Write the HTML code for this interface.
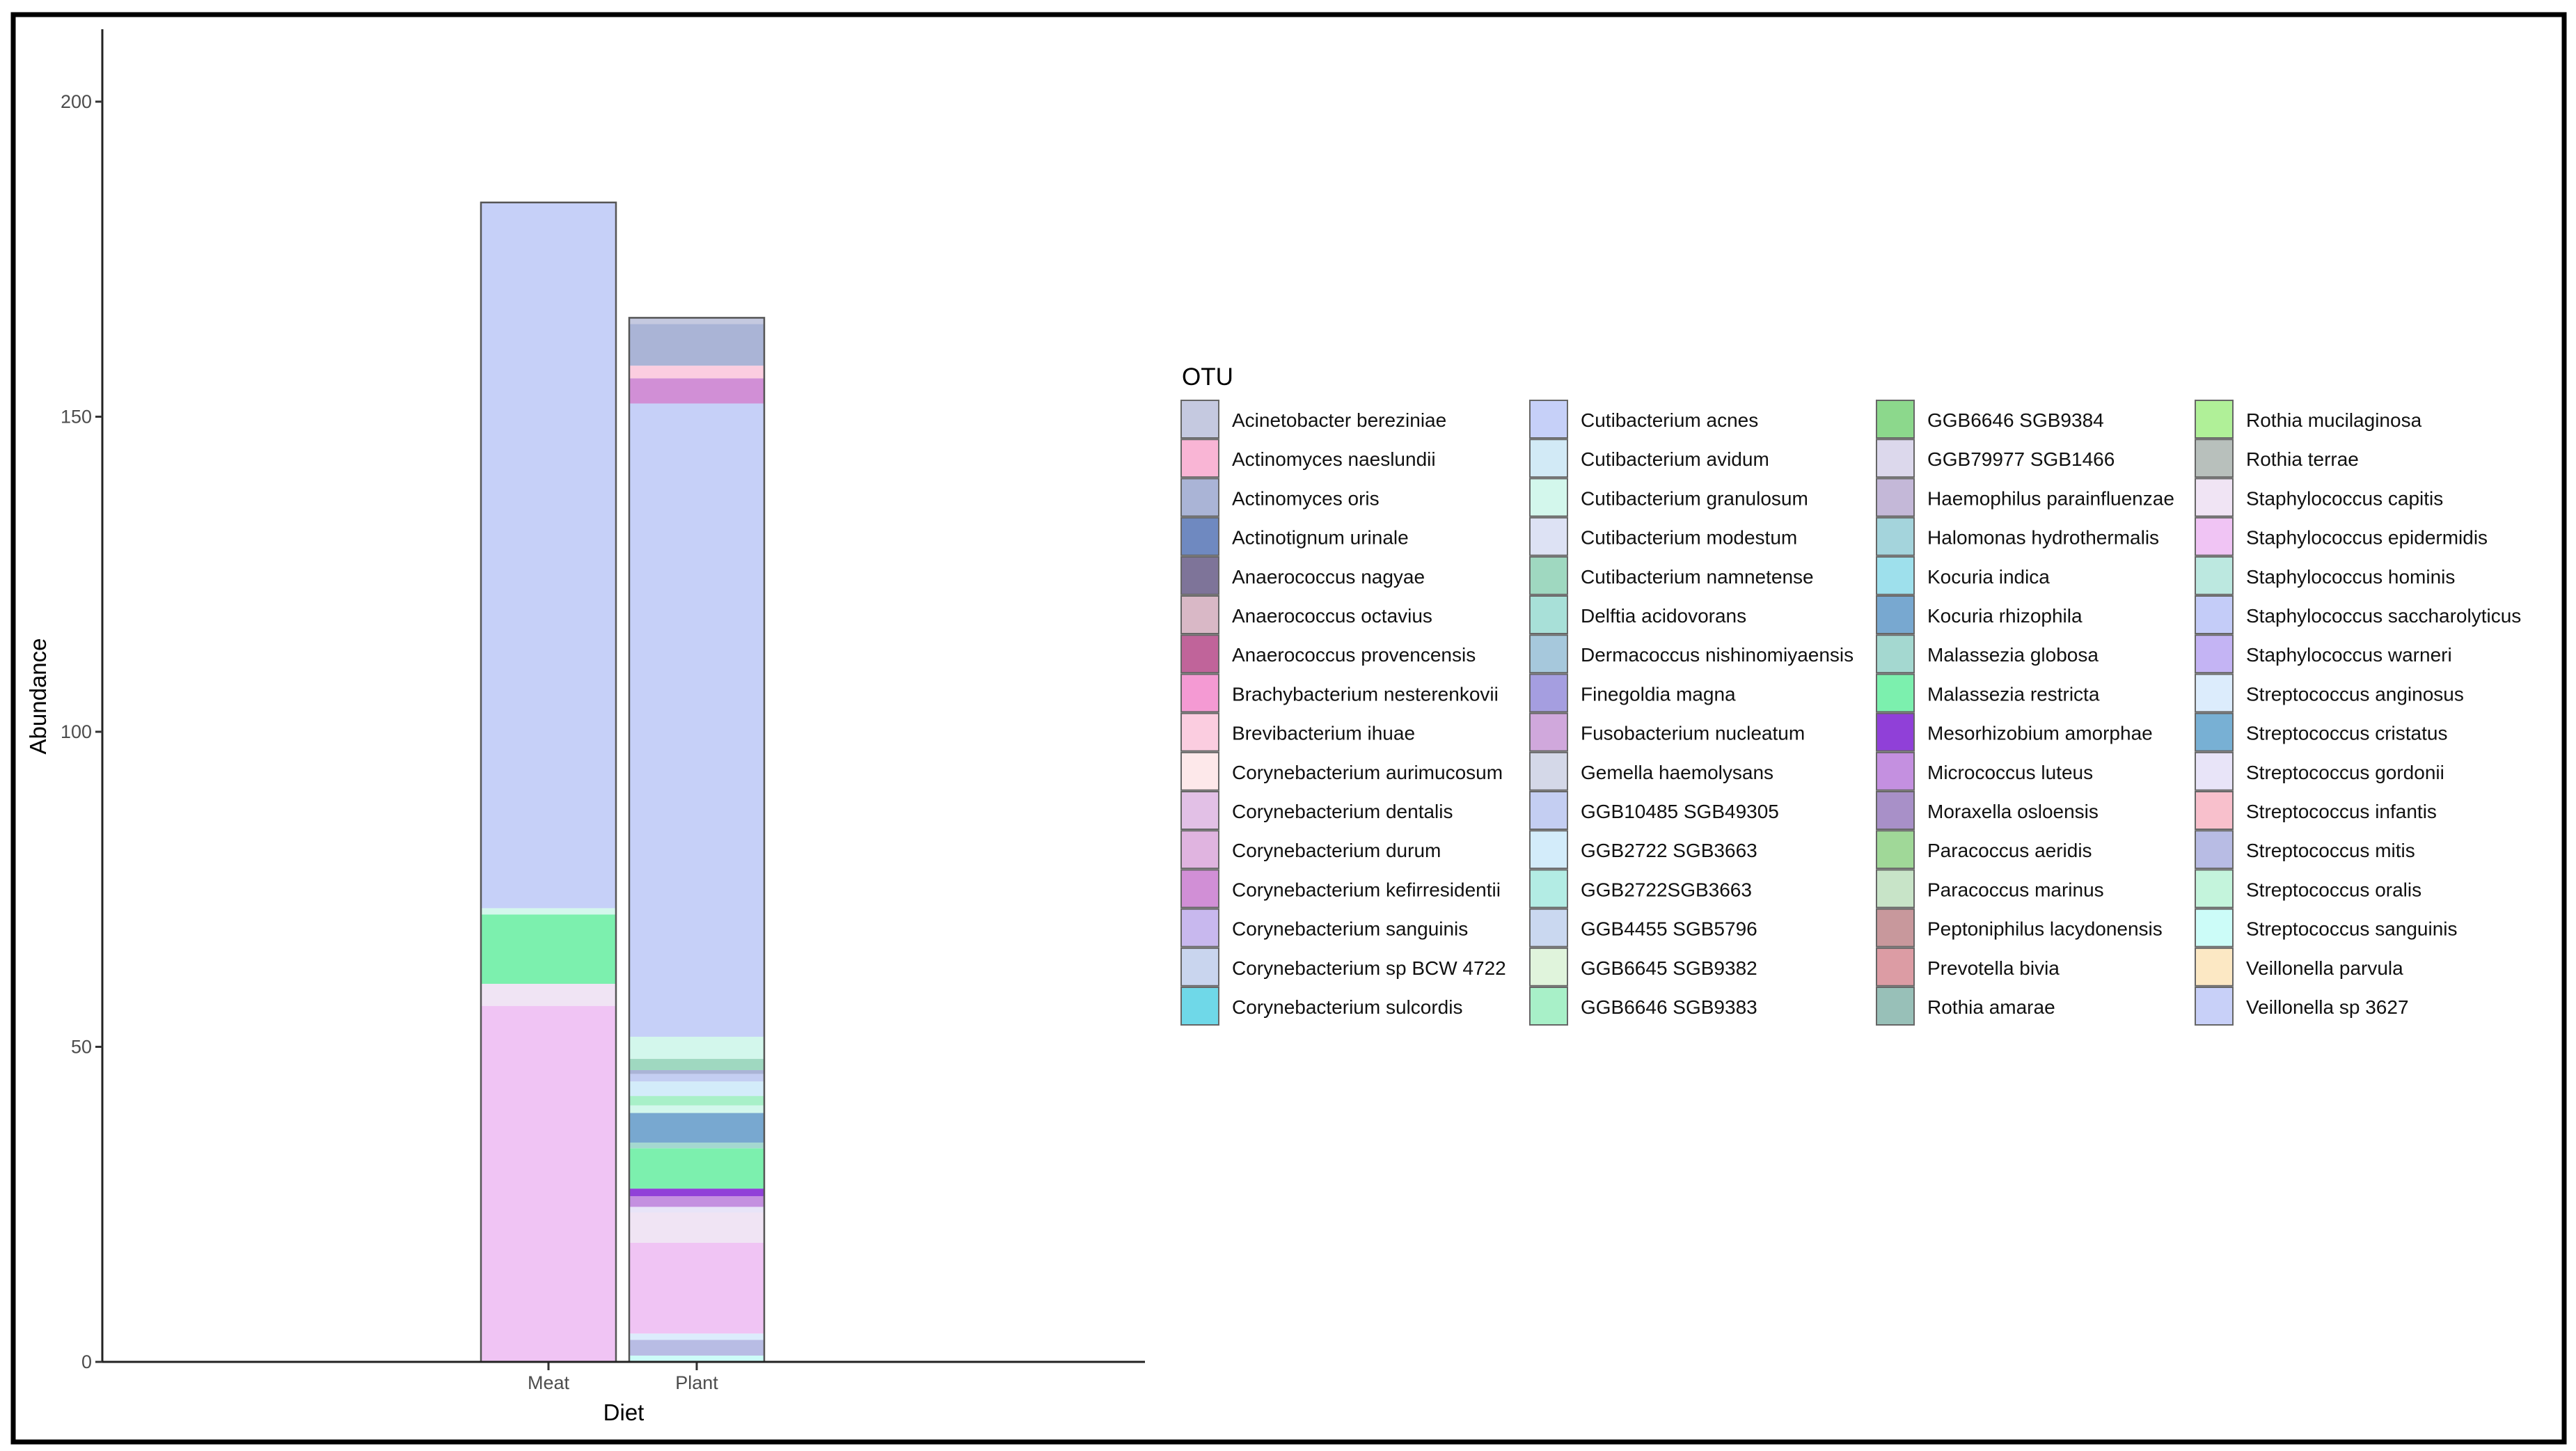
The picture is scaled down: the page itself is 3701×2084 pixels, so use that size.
<!DOCTYPE html>
<html><head><meta charset="utf-8"><style>
html,body{margin:0;padding:0;background:#fff;}
body{width:3701px;height:2079px;overflow:hidden;position:relative;font-family:"Liberation Sans",Arial,sans-serif;}
svg text{font-family:"Liberation Sans",Arial,sans-serif;}
</style></head><body>
<svg id="chart" width="3701" height="2079" xmlns="http://www.w3.org/2000/svg">
<rect x="19" y="21" width="3665" height="2050" fill="#fff" stroke="#000" stroke-width="7"/>
<g id="plot"></g>
<g id="legend"></g>
</svg>
<script>
const categories = ["Meat", "Plant"];
const meatOtus = ["Staphylococcus epidermidis","Staphylococcus capitis","Malassezia restricta","Cutibacterium granulosum","Cutibacterium acnes"];
const meatValues = [56.5, 3.5, 11, 1, 112];
const plantOtus = ["Streptococcus sanguinis","Streptococcus mitis","Streptococcus anginosus","Staphylococcus epidermidis","Staphylococcus capitis","Streptococcus gordonii","Micrococcus luteus","Mesorhizobium amorphae","Malassezia restricta","Malassezia globosa","Kocuria rhizophila","Cutibacterium granulosum","GGB6646 SGB9383","GGB2722 SGB3663","GGB10485 SGB49305","Actinomyces oris","Cutibacterium namnetense","Cutibacterium granulosum","Cutibacterium acnes","Corynebacterium kefirresidentii","Brevibacterium ihuae","Actinomyces oris","Acinetobacter bereziniae"];
const plantValues = [1, 2.5, 1, 14.4, 4.8, 0.9, 1.7, 1.2, 6.4, 0.9, 4.7, 1.2, 1.5, 2.3, 1.2, 0.6, 1.8, 3.5, 100.5, 4, 2, 6.6, 1];
const yTicks = [0, 50, 100, 150, 200];
const otuNames = ["Acinetobacter bereziniae","Actinomyces naeslundii","Actinomyces oris","Actinotignum urinale","Anaerococcus nagyae","Anaerococcus octavius","Anaerococcus provencensis","Brachybacterium nesterenkovii","Brevibacterium ihuae","Corynebacterium aurimucosum","Corynebacterium dentalis","Corynebacterium durum","Corynebacterium kefirresidentii","Corynebacterium sanguinis","Corynebacterium sp BCW 4722","Corynebacterium sulcordis",
"Cutibacterium acnes","Cutibacterium avidum","Cutibacterium granulosum","Cutibacterium modestum","Cutibacterium namnetense","Delftia acidovorans","Dermacoccus nishinomiyaensis","Finegoldia magna","Fusobacterium nucleatum","Gemella haemolysans","GGB10485 SGB49305","GGB2722 SGB3663","GGB2722SGB3663","GGB4455 SGB5796","GGB6645 SGB9382","GGB6646 SGB9383",
"GGB6646 SGB9384","GGB79977 SGB1466","Haemophilus parainfluenzae","Halomonas hydrothermalis","Kocuria indica","Kocuria rhizophila","Malassezia globosa","Malassezia restricta","Mesorhizobium amorphae","Micrococcus luteus","Moraxella osloensis","Paracoccus aeridis","Paracoccus marinus","Peptoniphilus lacydonensis","Prevotella bivia","Rothia amarae",
"Rothia mucilaginosa","Rothia terrae","Staphylococcus capitis","Staphylococcus epidermidis","Staphylococcus hominis","Staphylococcus saccharolyticus","Staphylococcus warneri","Streptococcus anginosus","Streptococcus cristatus","Streptococcus gordonii","Streptococcus infantis","Streptococcus mitis","Streptococcus oralis","Streptococcus sanguinis","Veillonella parvula","Veillonella sp 3627"];
const otuColors = ["#c5c9e0","#f9b5d5","#aab4d6","#6f89c0","#7e7499","#d9b8c6","#c0649a","#f49ad3","#fbcde0","#fde8ea","#e2c0e6","#e0b4e0","#d18fd6","#c8b8ee","#c9d5ee","#6fd8e8",
"#c6d0f8","#d2eaf6","#d3f7ec","#dde2f4","#9fd8c0","#a8e0d8","#a6c8dc","#a59ee0","#d0a8dc","#d4d8e8","#c4cef2","#d3ecfa","#b3ece4","#cad8f0","#e0f4dc","#a8f0c8",
"#8cd88c","#dcd8ec","#c4b8d8","#a4d4dc","#9ee0ec","#78a8d0","#a4d8d0","#7cf0ae","#9040d8","#c490e0","#a890c8","#a0d898","#c8e4c8","#c8989c","#dc9ca4","#98c0b8",
"#b0f098","#b8c0bc","#f0e4f4","#f0c4f4","#bce8e0","#c4ccf8","#c4b4f4","#dcecfc","#78b0d4","#e8e4f8","#f8c0cc","#b8bce4","#c4f4dc","#ccfcf8","#fce8c4","#c8d0f8"];

const NS = "http://www.w3.org/2000/svg";
const plot = document.getElementById("plot");
const legend = document.getElementById("legend");
const yBase = 1956, yPerUnit = 9.05;
function yScale(v){ return yBase - v * yPerUnit; }
const xLeft = 147, xRight = 1645;
const barCenters = [788, 1001];
function xScale(i){ return barCenters[i]; }
const barW = 194;
function colorOf(name){ const i = otuNames.indexOf(name); return i >= 0 ? otuColors[i] : "#ccc"; }
function mk(tag, attrs){ const e = document.createElementNS(NS, tag); for (const k in attrs) e.setAttribute(k, attrs[k]); return e; }

const series = [[meatOtus, meatValues], [plantOtus, plantValues]];
series.forEach(function(s, ci){
  let cum = 0;
  const x0 = xScale(ci) - barW/2;
  s[1].forEach(function(v, j){
    const r = mk("rect", {x: x0, y: yScale(cum + v), width: barW, height: v * yPerUnit, fill: colorOf(s[0][j])});
    
    
    plot.appendChild(r);
    cum += v;
  });
  const o = mk("rect", {x: x0, y: yScale(cum), width: barW, height: cum * yPerUnit, fill: "none", stroke: "#555", "stroke-width": 2.5});
  
  
  plot.appendChild(o);
  const t = mk("line", {x1: xScale(ci), x2: xScale(ci), y1: yBase, y2: yBase + 12, stroke: "#333", "stroke-width": 3});
  
  
  plot.appendChild(t);
  const lb = mk("text", {x: xScale(ci), y: 1995, "text-anchor": "middle", "font-size": 27, fill: "#4d4d4d"});
  lb.textContent = categories[ci];
  
  
  plot.appendChild(lb);
});

const ya = mk("line", {x1: xLeft, x2: xLeft, y1: 42, y2: yBase, stroke: "#222", "stroke-width": 3});


plot.appendChild(ya);
const xa = mk("line", {x1: xLeft, x2: xRight, y1: yBase, y2: yBase, stroke: "#222", "stroke-width": 3});


plot.appendChild(xa);
yTicks.forEach(function(v){
  const tk = mk("line", {x1: xLeft - 10, x2: xLeft, y1: yScale(v), y2: yScale(v), stroke: "#333", "stroke-width": 3});
  
  
  plot.appendChild(tk);
  const tl = mk("text", {x: xLeft - 15, y: yScale(v) + 9, "text-anchor": "end", "font-size": 27, fill: "#4d4d4d"});
  tl.textContent = v;
  
  
  plot.appendChild(tl);
});
const yt = mk("text", {x: 0, y: 0, transform: "translate(66,1000) rotate(-90)", "text-anchor": "middle", "font-size": 33, fill: "#000"});
yt.textContent = "Abundance";


plot.appendChild(yt);
const xt = mk("text", {x: 896, y: 2040, "text-anchor": "middle", "font-size": 33, fill: "#000"});
xt.textContent = "Diet";


plot.appendChild(xt);

const lt = mk("text", {x: 1698, y: 553, "font-size": 35, fill: "#000"});
lt.textContent = "OTU";


legend.appendChild(lt);
const colX = [1697, 2198, 2696, 3154];
otuNames.forEach(function(n, i){
  const c = Math.floor(i / 16), r = i % 16;
  const y = 575 + r * 56.2;
  const box = mk("rect", {x: colX[c], y: y, width: 54, height: 54, fill: otuColors[i], stroke: "#666", "stroke-width": 2});
  
  
  legend.appendChild(box);
  const tx = mk("text", {x: colX[c] + 73, y: y + 38, "font-size": 28, fill: "#111"});
  tx.textContent = n;
  
  
  legend.appendChild(tx);
});
</script>
</body></html>
